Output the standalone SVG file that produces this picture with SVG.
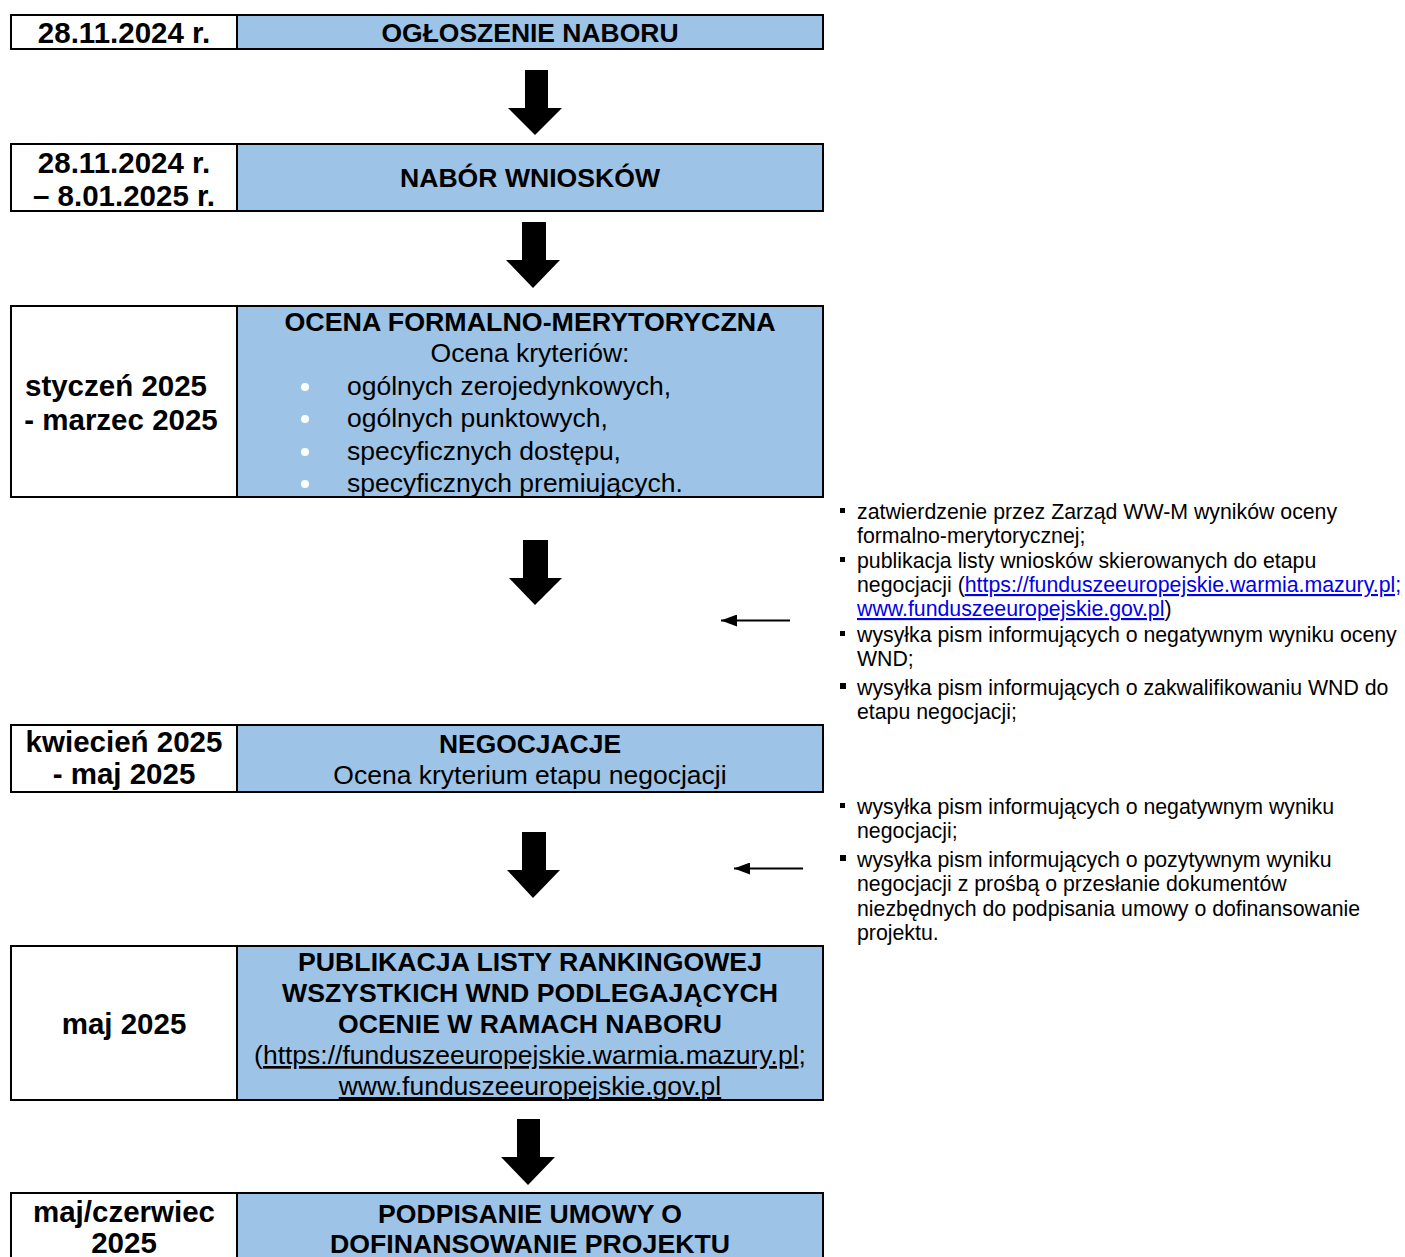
<svg xmlns="http://www.w3.org/2000/svg" width="1405" height="1257" viewBox="0 0 1405 1257">
<style>
.box{stroke:#000;stroke-width:2}
.l{fill:#fff}
.r{fill:#9DC3E6}
.t{font-family:"Liberation Sans",Arial,sans-serif;fill:#000}
.b{font-weight:bold;font-size:25.5px}
.bd{font-weight:bold;font-size:29.5px}
.n{font-size:26.5px}
.s{font-size:21.3px}
.c{text-anchor:middle}
.u{text-decoration:underline}
.lnk{fill:#0000EE;text-decoration:underline}
</style>
<defs>
<marker id="ah" markerWidth="16" markerHeight="12" refX="16" refY="6" orient="auto" markerUnits="userSpaceOnUse">
<path d="M0,0 L16,6 L0,12 Z" fill="#000"/>
</marker>
</defs>
<rect width="1405" height="1257" fill="#fff"/>

<g id="n1">
<rect class="box l" x="11" y="15" width="226" height="34"/>
<rect class="box r" x="237" y="15" width="586" height="34"/>
<text class="t bd c" x="124" y="43.3">28.11.2024 r.</text>
<text class="t b c" x="530" y="41.5" textLength="297" lengthAdjust="spacingAndGlyphs">OGŁOSZENIE NABORU</text>
</g>

<g id="n2">
<rect class="box l" x="11" y="144" width="226" height="67"/>
<rect class="box r" x="237" y="144" width="586" height="67"/>
<text class="t bd c" x="124" y="172.5">28.11.2024 r.</text>
<text class="t bd c" x="124" y="205.5">– 8.01.2025 r.</text>
<text class="t b c" x="530" y="187" textLength="260" lengthAdjust="spacingAndGlyphs">NABÓR WNIOSKÓW</text>
</g>

<g id="n3">
<rect class="box l" x="11" y="306" width="226" height="191"/>
<rect class="box r" x="237" y="306" width="586" height="191"/>
<text class="t bd c" x="116" y="395.5">styczeń 2025</text>
<text class="t bd c" x="121" y="429.5">- marzec 2025</text>
<text class="t b c" x="530" y="331" textLength="491" lengthAdjust="spacingAndGlyphs">OCENA FORMALNO-MERYTORYCZNA</text>
<text class="t n c" x="530" y="362">Ocena kryteriów:</text>
<g fill="#fff">
<circle cx="305" cy="387" r="4"/>
<circle cx="305" cy="419" r="4"/>
<circle cx="305" cy="452" r="4"/>
<circle cx="305" cy="484" r="4"/>
</g>
<text class="t n" x="347" y="395">ogólnych zerojedynkowych,</text>
<text class="t n" x="347" y="427">ogólnych punktowych,</text>
<text class="t n" x="347" y="460">specyficznych dostępu,</text>
<text class="t n" x="347" y="492">specyficznych premiujących.</text>
</g>

<g id="n4">
<rect class="box l" x="11" y="725" width="226" height="67"/>
<rect class="box r" x="237" y="725" width="586" height="67"/>
<text class="t bd c" x="124" y="752">kwiecień 2025</text>
<text class="t bd c" x="124" y="784">- maj 2025</text>
<text class="t b c" x="530" y="753" textLength="182" lengthAdjust="spacingAndGlyphs">NEGOCJACJE</text>
<text class="t n c" x="530" y="784">Ocena kryterium etapu negocjacji</text>
</g>

<g id="n5">
<rect class="box l" x="11" y="946" width="226" height="154"/>
<rect class="box r" x="237" y="946" width="586" height="154"/>
<text class="t bd c" x="124" y="1033.5">maj 2025</text>
<text class="t b c" x="530" y="971" textLength="464" lengthAdjust="spacingAndGlyphs">PUBLIKACJA LISTY RANKINGOWEJ</text>
<text class="t b c" x="530" y="1002" textLength="496" lengthAdjust="spacingAndGlyphs">WSZYSTKICH WND PODLEGAJĄCYCH</text>
<text class="t b c" x="530" y="1033" textLength="384" lengthAdjust="spacingAndGlyphs">OCENIE W RAMACH NABORU</text>
<text class="t n c" x="530" y="1064">(<tspan class="u">https://funduszeeuropejskie.warmia.mazury.pl</tspan>;</text>
<text class="t n c u" x="530" y="1095">www.funduszeeuropejskie.gov.pl</text>
</g>

<g id="n6">
<rect class="box l" x="11" y="1193" width="226" height="80"/>
<rect class="box r" x="237" y="1193" width="586" height="80"/>
<text class="t bd c" x="124" y="1222">maj/czerwiec</text>
<text class="t bd c" x="124" y="1253">2025</text>
<text class="t b c" x="530" y="1223" textLength="304" lengthAdjust="spacingAndGlyphs">PODPISANIE UMOWY O</text>
<text class="t b c" x="530" y="1253" textLength="400" lengthAdjust="spacingAndGlyphs">DOFINANSOWANIE PROJEKTU</text>
</g>

<g id="note1">
<g fill="#000">
<rect x="840" y="508" width="5" height="5"/>
<rect x="840" y="557" width="5" height="5"/>
<rect x="840" y="631" width="5" height="5"/>
<rect x="840" y="683" width="6" height="6"/>
</g>
<text class="t s" x="857" y="519">zatwierdzenie przez Zarząd WW-M wyników oceny</text>
<text class="t s" x="857" y="543">formalno-merytorycznej;</text>
<text class="t s" x="857" y="568">publikacja listy wniosków skierowanych do etapu</text>
<text class="t s" x="857" y="592">negocjacji (<tspan class="lnk">https://funduszeeuropejskie.warmia.mazury.pl;</tspan></text>
<text class="t s" x="857" y="616"><tspan class="lnk">www.funduszeeuropejskie.gov.pl</tspan>)</text>
<text class="t s" x="857" y="642">wysyłka pism informujących o negatywnym wyniku oceny</text>
<text class="t s" x="857" y="666">WND;</text>
<text class="t s" x="857" y="695">wysyłka pism informujących o zakwalifikowaniu WND do</text>
<text class="t s" x="857" y="719">etapu negocjacji;</text>
</g>

<g id="note2">
<g fill="#000">
<rect x="840" y="803" width="5" height="5"/>
<rect x="840" y="855" width="6" height="6"/>
</g>
<text class="t s" x="857" y="814">wysyłka pism informujących o negatywnym wyniku</text>
<text class="t s" x="857" y="838">negocjacji;</text>
<text class="t s" x="857" y="867">wysyłka pism informujących o pozytywnym wyniku</text>
<text class="t s" x="857" y="891">negocjacji z prośbą o przesłanie dokumentów</text>
<text class="t s" x="857" y="916">niezbędnych do podpisania umowy o dofinansowanie</text>
<text class="t s" x="857" y="940">projektu.</text>
</g>

<g id="connectors" fill="#000">
<path d="M525,70 H548 V108 H562 L535,135 L508,108 H525 Z"/>
<path d="M522,222 H546 V260 H560 L533,288 L506,260 H522 Z"/>
<path d="M523,540 H548 V578 H562 L535,605 L509,578 H523 Z"/>
<path d="M522,832 H546 V870 H560 L533,898 L507,870 H522 Z"/>
<path d="M517,1119 H540 V1157 H555 L528,1185 L501,1157 H517 Z"/>
<line x1="790" y1="620.5" x2="721" y2="620.5" stroke="#000" stroke-width="2" marker-end="url(#ah)"/>
<line x1="803" y1="868.5" x2="734" y2="868.5" stroke="#000" stroke-width="2" marker-end="url(#ah)"/>
</g>
</svg>
